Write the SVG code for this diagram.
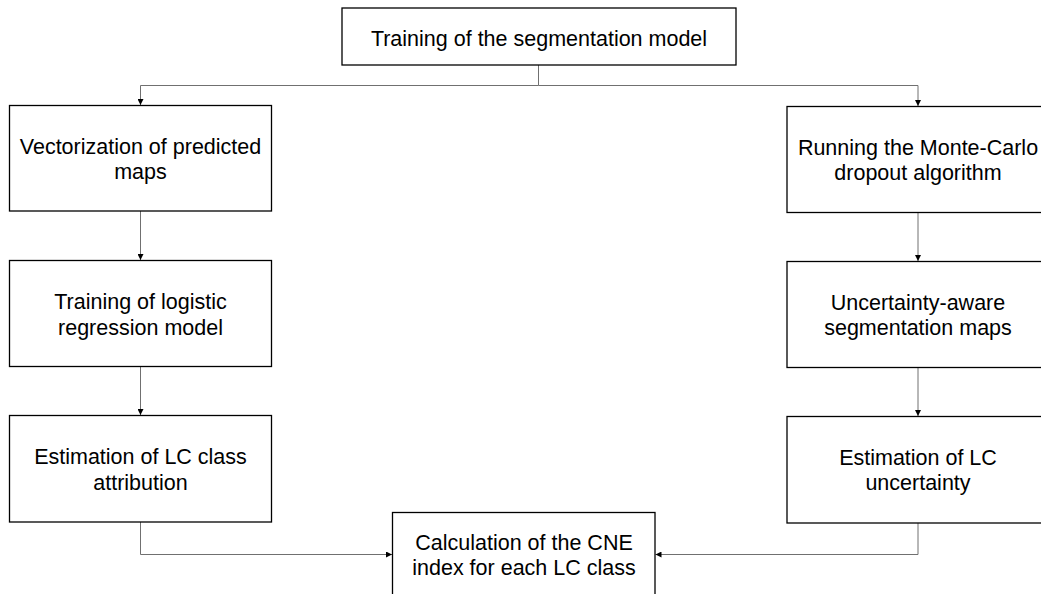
<svg xmlns="http://www.w3.org/2000/svg" width="1041" height="594" viewBox="0 0 1041 594">
  <style>
    .box { fill: #ffffff; stroke: #000000; stroke-width: 1.3; }
    .lbl { font-family: "Liberation Sans", Arial, sans-serif; font-size: 21.5px; fill: #000000; text-anchor: middle; }
    .conn { fill: none; stroke: #707070; stroke-width: 1; }
  </style>
  <defs>
    <marker id="arrow" markerUnits="userSpaceOnUse" markerWidth="7" markerHeight="6" refX="6" refY="3" orient="auto">
      <path d="M0,0 L6,3 L0,6 z" fill="#000000"/>
    </marker>
  </defs>
  <rect width="1041" height="594" fill="#ffffff"/>

  <!-- connectors -->
  <g id="connectors">
    <path class="conn" d="M538.5,65 V85.5"/>
    <path class="conn" d="M538.5,85.5 H140.5 V105" marker-end="url(#arrow)"/>
    <path class="conn" d="M538.5,85.5 H918 V106" marker-end="url(#arrow)"/>
    <path class="conn" d="M140.5,211 V260" marker-end="url(#arrow)"/>
    <path class="conn" d="M140.5,366.5 V415" marker-end="url(#arrow)"/>
    <path class="conn" d="M918,212.5 V261" marker-end="url(#arrow)"/>
    <path class="conn" d="M918,367.5 V416" marker-end="url(#arrow)"/>
    <path class="conn" d="M140.5,522 V554.5 H392" marker-end="url(#arrow)"/>
    <path class="conn" d="M918,523 V554.5 H655.5" marker-end="url(#arrow)"/>
  </g>

  <!-- top node -->
  <g id="train-seg">
    <rect class="box" x="342" y="8" width="394" height="57"/>
    <text class="lbl" x="539" y="45.5">Training of the segmentation model</text>
  </g>

  <!-- left column -->
  <g id="vectorize">
    <rect class="box" x="9.5" y="105.5" width="262" height="105.5"/>
    <text class="lbl" x="140.5" y="154">Vectorization of predicted</text>
    <text class="lbl" x="140.5" y="179">maps</text>
  </g>
  <g id="train-logreg">
    <rect class="box" x="9.5" y="260.5" width="262" height="106"/>
    <text class="lbl" x="140.5" y="309">Training of logistic</text>
    <text class="lbl" x="140.5" y="334.5">regression model</text>
  </g>
  <g id="lc-attribution">
    <rect class="box" x="9.5" y="415.5" width="262" height="106.5"/>
    <text class="lbl" x="140.5" y="464">Estimation of LC class</text>
    <text class="lbl" x="140.5" y="489.5">attribution</text>
  </g>

  <!-- right column -->
  <g id="mc-dropout">
    <rect class="box" x="787" y="106.5" width="262" height="106"/>
    <text class="lbl" x="918" y="154.5">Running the Monte-Carlo</text>
    <text class="lbl" x="918" y="179.5">dropout algorithm</text>
  </g>
  <g id="uncert-maps">
    <rect class="box" x="787" y="261.5" width="262" height="106"/>
    <text class="lbl" x="918" y="309.5">Uncertainty-aware</text>
    <text class="lbl" x="918" y="335">segmentation maps</text>
  </g>
  <g id="lc-uncertainty">
    <rect class="box" x="787" y="416.5" width="262" height="106.5"/>
    <text class="lbl" x="918" y="464.5">Estimation of LC</text>
    <text class="lbl" x="918" y="490">uncertainty</text>
  </g>

  <!-- bottom node -->
  <g id="cne-index">
    <rect class="box" x="392.5" y="512.5" width="262.5" height="100"/>
    <text class="lbl" x="524" y="550">Calculation of the CNE</text>
    <text class="lbl" x="524" y="575">index for each LC class</text>
  </g>
</svg>
